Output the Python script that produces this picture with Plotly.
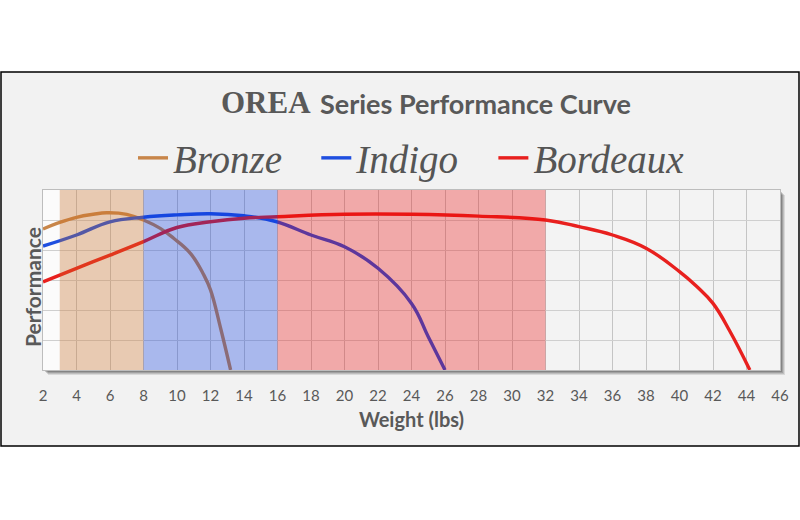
import plotly.graph_objects as go

# ---- data ----
bronze_x = [2, 3, 4, 5, 5.8, 7, 8, 9, 9.8, 10.8, 11.6, 12, 12.6, 13.2]
bronze_y = [4.70, 4.92, 5.09, 5.19, 5.24, 5.19, 5.00, 4.72, 4.39, 3.89, 3.17, 2.67, 1.40, 0.0]

indigo_x = [2, 4, 6, 8, 10, 12, 14, 15.9, 18, 20, 22, 24, 25, 26]
indigo_y = [4.13, 4.50, 4.94, 5.09, 5.17, 5.21, 5.14, 4.95, 4.50, 4.11, 3.39, 2.22, 1.11, 0.0]

bordeaux_x = [2, 4, 6, 8, 10, 12, 14, 16, 20, 24, 28, 32, 34, 36, 38, 40, 41, 42, 43, 44.2]
bordeaux_y = [2.94, 3.39, 3.83, 4.28, 4.75, 4.94, 5.06, 5.11, 5.19, 5.19, 5.13, 5.00, 4.78, 4.50, 4.06, 3.28, 2.80, 2.22, 1.30, 0.0]

series_names = ["Bronze", "Indigo", "Bordeaux"]
series_colors = ["#c8864a", "#1f4fe0", "#e8201e"]
legend_pad = [3, 3, 0]  # trailing non-breaking spaces for legend spacing

bands = [(3, 8, "rgba(207,110,30,0.3)"), (8, 16, "rgba(0,50,226,0.3)"), (16, 32, "rgba(240,0,0,0.3)")]
x_ticks = list(range(2, 47, 2))

# ---- geometry helpers (pixel -> paper) ----
L, R, T, B = 43, 780, 190, 370
PW, PH = R - L, B - T
def px(x):
    return (x - L) / PW
def py(y):
    return (B - y) / PH

fig = go.Figure()
for xs, ys, name, col, pad in zip([bronze_x, indigo_x, bordeaux_x], [bronze_y, indigo_y, bordeaux_y],
                                  series_names, series_colors, legend_pad):
    fig.add_trace(go.Scatter(x=xs, y=ys, name=name + "\u00a0" * pad, mode="lines",
                             line=dict(color=col, width=3.4, shape="spline", smoothing=1.2)))

shapes = []
# outer frame
shapes.append(dict(type="rect", xref="paper", yref="paper", x0=px(1), x1=px(799), y0=py(446), y1=py(72),
                   fillcolor="#f2f2f2", line=dict(color="black", width=1.5), layer="below"))
# shadow
for k, op in [(5, 0.10), (4, 0.12), (3, 0.15), (2, 0.18)]:
    shapes.append(dict(type="rect", xref="paper", yref="paper", x0=px(L + k), x1=px(R + k), y0=py(B + k), y1=py(T + k),
                       fillcolor="rgba(0,0,0,%.2f)" % op, line=dict(width=0), layer="below"))
# plot background
shapes.append(dict(type="rect", xref="paper", yref="paper", x0=0, x1=1, y0=0, y1=1,
                   fillcolor="#f3f3f3", line=dict(width=0), layer="below"))
shapes.append(dict(type="rect", xref="x", yref="paper", x0=2, x1=3, y0=0, y1=1,
                   fillcolor="#fbfbfb", line=dict(width=0), layer="below"))
# bands above lines
for x0, x1, c in bands:
    shapes.append(dict(type="rect", xref="x", yref="paper", x0=x0, x1=x1, y0=0, y1=1,
                       fillcolor=c, line=dict(width=0), layer="above"))

fig.update_layout(
    width=800, height=520,
    margin=dict(l=L, r=800 - R, t=T, b=520 - B),
    paper_bgcolor="white", plot_bgcolor="rgba(0,0,0,0)",
    shapes=shapes,
    showlegend=True,
    legend=dict(orientation="h", x=px(133), xanchor="left", y=py(158), yanchor="middle",
                font=dict(family="Liberation Serif", size=39, color="#555555", style="italic"),
                bgcolor="rgba(0,0,0,0)", itemwidth=30),
    annotations=[
        dict(xref="paper", yref="paper", x=px(313), y=py(103), xanchor="right", yanchor="middle",
             showarrow=False, text="OREA",
             font=dict(family="Liberation Serif", size=31, color="#595959", weight="bold")),
        dict(xref="paper", yref="paper", x=px(318), y=py(104), xanchor="left", yanchor="middle",
             showarrow=False, text="Series Performance Curve",
             font=dict(family="Lato", size=27, color="#595959", weight="bold")),
        dict(xref="paper", yref="paper", x=px(32), y=py(287), xanchor="center", yanchor="middle",
             showarrow=False, text="Performance", textangle=-90,
             font=dict(family="Lato", size=21, color="#595959", weight="bold")),
    ],
    xaxis=dict(range=[2, 46], tickvals=x_ticks, ticktext=[str(v) for v in x_ticks],
               showgrid=True, gridcolor="#c4c4c4", gridwidth=1, zeroline=False,
               showline=True, linecolor="#bdbdbd", mirror=True,
               ticks="", ticklabelstandoff=12,
               tickfont=dict(family="Lato", size=15, color="#595959"),
               title=dict(text="Weight (lbs)", standoff=9,
                          font=dict(family="Lato", size=20, color="#595959", weight="bold"))),
    yaxis=dict(range=[0, 6], dtick=1, showgrid=True, gridcolor="#cfcfcf", gridwidth=1, zeroline=False,
               showline=True, linecolor="#bdbdbd", mirror=True, showticklabels=False, ticks=""),
)

fig.write_html("out.html")
